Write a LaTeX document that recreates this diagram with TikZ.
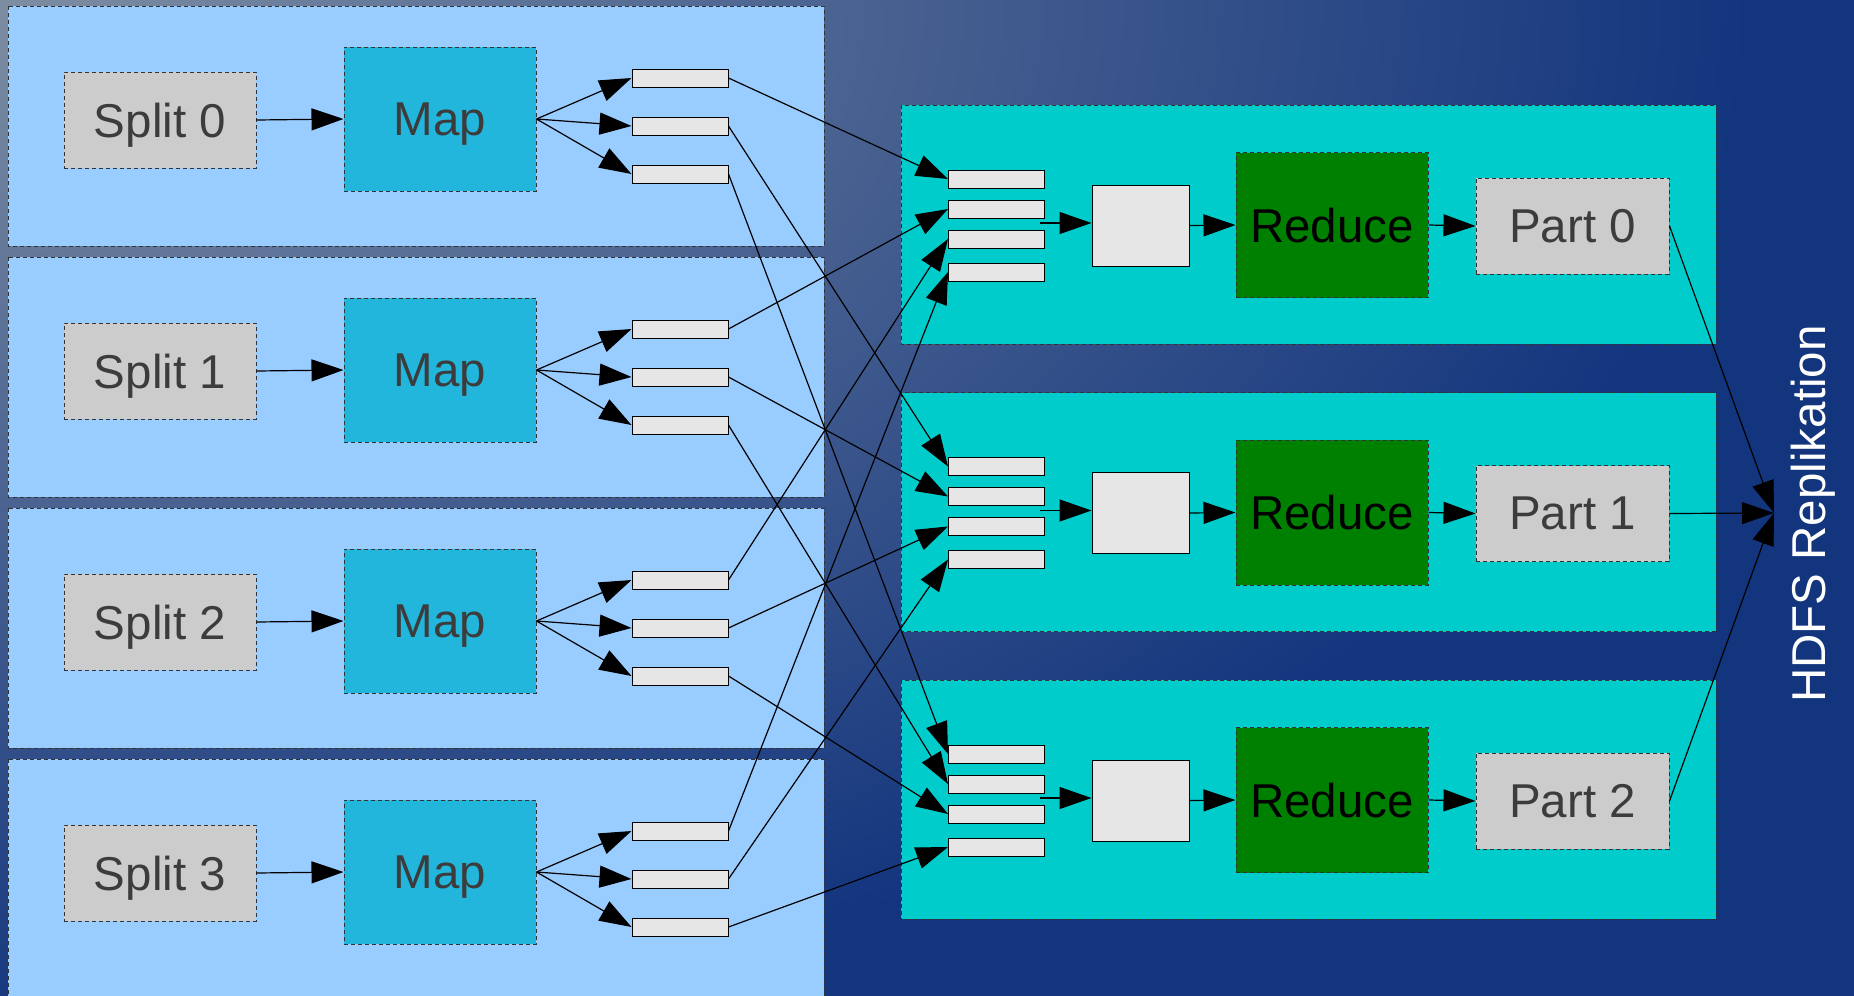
\documentclass[tikz,border=0pt]{standalone}
\usepackage{fontspec}
\setmainfont{Liberation Sans}
\usetikzlibrary{arrows.meta}

\definecolor{bglight}{RGB}{125,141,162}
\definecolor{bgdark}{RGB}{19,53,126}
\definecolor{mapzone}{RGB}{153,204,255}
\definecolor{mapfill}{RGB}{35,182,220}
\definecolor{redzone}{RGB}{0,204,204}
\definecolor{redfill}{RGB}{0,128,0}
\definecolor{partfill}{RGB}{204,204,204}
\definecolor{buffill}{RGB}{230,230,230}
\definecolor{txtgray}{RGB}{60,60,60}

\tikzset{
  zone/.style={draw=black!80, dash pattern=on 2pt off 1.5pt, line width=0.5pt},
  block/.style={draw=black!80, dash pattern=on 2pt off 1.5pt, line width=0.5pt,
    inner sep=0pt, text depth=0pt, font=\fontsize{23.75}{28}\selectfont},
  splitbox/.style={block, fill=partfill, text=txtgray, minimum width=96pt, minimum height=48pt},
  mapbox/.style={block, fill=mapfill, text=txtgray, minimum width=96pt, minimum height=72pt},
  reducebox/.style={block, fill=redfill, text=black, minimum width=96pt, minimum height=72.5pt},
  partbox/.style={splitbox, minimum width=96.5pt},
  buf/.style={draw=black, line width=0.5pt, fill=buffill, inner sep=0pt,
    minimum width=48pt, minimum height=9pt},
  mergebox/.style={buf, minimum width=48.5pt, minimum height=40.5pt},
  flow/.style={line width=0.6pt, -{Triangle[length=16pt,width=11pt]}},
}

\begin{document}
\begin{tikzpicture}[x=0.5pt,y=0.5pt,yscale=-1,xscale=1]
\useasboundingbox (0,0) rectangle (1854,996);

%Background
\begin{scope}
\clip (0,0) rectangle (1854,996);
\fill [bgdark] (0,0) rectangle (1854,996);
\shade [inner color=bglight, outer color=bgdark] (0,0) ellipse (1750 and 1050);
\end{scope}

%Map side: split, map and three output buffers per row
\foreach \i in {0,...,3}{
  \draw [zone, fill=mapzone] (8,{6+251*\i}) rectangle (824,{246+251*\i});
  \node [splitbox] (s\i) at (160,{120+251*\i}) {Split \i};
  \node [mapbox] (m\i) at (440,{119+251*\i}) {Map};
  \draw [flow] (s\i.east) -- (m\i.west);
  \foreach \j in {0,1,2}{
    \node [buf] (q\i\j) at (680,{78+251*\i+48*\j}) {};
    \draw [flow] (m\i.east) -- (q\i\j.west);
  }
}

%Reduce side: four input buffers, merge, reduce, part
\foreach \k in {0,1,2}{
  \draw [zone, fill=redzone] (901,{105+287.5*\k}) rectangle (1716,{344+287.5*\k});
  \foreach \i/\dy in {0/179,1/209,2/239,3/272}{
    \node [buf] (r\k\i) at (996.5,{\dy+287.5*\k}) {};
  }
  \node [mergebox] (mg\k) at (1140.5,{225.5+287.5*\k}) {};
  \coordinate (in\k) at (1040,{223+287.5*\k});
  \node [reducebox] (red\k) at (1332,{225+287.5*\k}) {Reduce};
  \node [partbox] (p\k) at (1572.5,{226+287.5*\k}) {Part \k};
  \draw [flow] (in\k) -- (in\k -| mg\k.west);
  \draw [flow] (mg\k.east) -- (red\k.west);
  \draw [flow] (red\k.east) -- (p\k.west);
}

%Shuffle: buffer j of map i goes to input i of reduce j
\foreach \i in {0,...,3}{
  \foreach \j in {0,1,2}{
    \draw [flow] (q\i\j.east) -- (r\j\i.west);
  }
}

% Text Node
\node [text=white, rotate=90, font=\fontsize{23.75}{28}\selectfont] (hdfs) at (1813,514) {HDFS Replikation};
\coordinate (repl) at (1774,513);
\foreach \k in {0,1,2}{
  \draw [flow] (p\k.east) -- (repl);
}

\end{tikzpicture}
\end{document}
